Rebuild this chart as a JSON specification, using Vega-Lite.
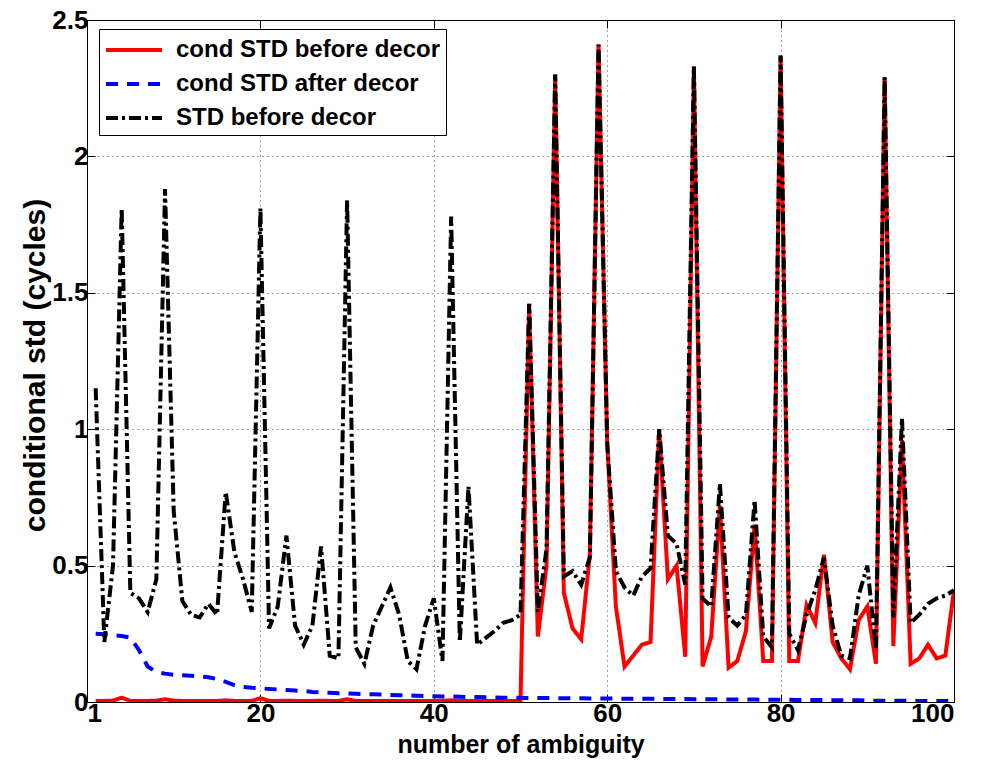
{
  "$schema": "https://vega.github.io/schema/vega-lite/v6.json",
  "width": 867,
  "height": 682,
  "autosize": {"type": "none"},
  "padding": {"left": 87, "top": 20, "right": 31, "bottom": 72},
  "background": "white",
  "config": {
    "font": "Liberation Sans",
    "view": {"stroke": "black", "strokeWidth": 1},
    "axis": {
      "labelFont": "Liberation Sans",
      "labelFontSize": 26,
      "labelFontWeight": "bold",
      "labelColor": "black",
      "titleFont": "Liberation Sans",
      "titleFontSize": 25,
      "titleFontWeight": "bold",
      "titleColor": "black",
      "domain": false,
      "tickColor": "black",
      "tickSize": -8,
      "gridColor": "black",
      "gridDash": [1, 4],
      "gridOpacity": 0.75
    }
  },
  "resolve": {"axis": {"x": "independent", "y": "independent"}},
  "data": {
    "values": [
      {"x":1,"r":0.004,"b":0.250,"k":1.15},
      {"x":2,"r":0.004,"b":0.248,"k":0.22},
      {"x":3,"r":0.005,"b":0.245,"k":0.50},
      {"x":4,"r":0.016,"b":0.242,"k":1.81},
      {"x":5,"r":0.004,"b":0.236,"k":0.40},
      {"x":6,"r":0.004,"b":0.190,"k":0.38},
      {"x":7,"r":0.004,"b":0.130,"k":0.33},
      {"x":8,"r":0.005,"b":0.110,"k":0.45},
      {"x":9,"r":0.010,"b":0.104,"k":1.88},
      {"x":10,"r":0.005,"b":0.100,"k":0.70},
      {"x":11,"r":0.004,"b":0.098,"k":0.37},
      {"x":12,"r":0.004,"b":0.096,"k":0.32},
      {"x":13,"r":0.004,"b":0.094,"k":0.31},
      {"x":14,"r":0.004,"b":0.091,"k":0.36},
      {"x":15,"r":0.004,"b":0.084,"k":0.32},
      {"x":16,"r":0.006,"b":0.074,"k":0.77},
      {"x":17,"r":0.004,"b":0.062,"k":0.55},
      {"x":18,"r":0.004,"b":0.055,"k":0.45},
      {"x":19,"r":0.004,"b":0.052,"k":0.33},
      {"x":20,"r":0.014,"b":0.050,"k":1.81},
      {"x":21,"r":0.004,"b":0.048,"k":0.27},
      {"x":22,"r":0.004,"b":0.046,"k":0.35},
      {"x":23,"r":0.005,"b":0.044,"k":0.61},
      {"x":24,"r":0.004,"b":0.042,"k":0.28},
      {"x":25,"r":0.004,"b":0.040,"k":0.21},
      {"x":26,"r":0.004,"b":0.037,"k":0.28},
      {"x":27,"r":0.005,"b":0.035,"k":0.57},
      {"x":28,"r":0.004,"b":0.034,"k":0.17},
      {"x":29,"r":0.004,"b":0.032,"k":0.16},
      {"x":30,"r":0.010,"b":0.031,"k":1.84},
      {"x":31,"r":0.004,"b":0.030,"k":0.20},
      {"x":32,"r":0.004,"b":0.029,"k":0.14},
      {"x":33,"r":0.004,"b":0.028,"k":0.28},
      {"x":34,"r":0.004,"b":0.027,"k":0.35},
      {"x":35,"r":0.004,"b":0.026,"k":0.42},
      {"x":36,"r":0.004,"b":0.025,"k":0.32},
      {"x":37,"r":0.004,"b":0.024,"k":0.15},
      {"x":38,"r":0.004,"b":0.023,"k":0.12},
      {"x":39,"r":0.004,"b":0.022,"k":0.28},
      {"x":40,"r":0.004,"b":0.021,"k":0.38},
      {"x":41,"r":0.004,"b":0.020,"k":0.15},
      {"x":42,"r":0.006,"b":0.020,"k":1.78},
      {"x":43,"r":0.004,"b":0.019,"k":0.22},
      {"x":44,"r":0.004,"b":0.018,"k":0.79},
      {"x":45,"r":0.004,"b":0.018,"k":0.21},
      {"x":46,"r":0.004,"b":0.017,"k":0.235},
      {"x":47,"r":0.004,"b":0.017,"k":0.26},
      {"x":48,"r":0.004,"b":0.016,"k":0.29},
      {"x":49,"r":0.004,"b":0.016,"k":0.30},
      {"x":50,"r":0.004,"b":0.015,"k":0.32},
      {"x":51,"r":1.46,"b":0.015,"k":1.46},
      {"x":52,"r":0.24,"b":0.015,"k":0.33},
      {"x":53,"r":0.50,"b":0.015,"k":0.56},
      {"x":54,"r":2.30,"b":0.014,"k":2.30},
      {"x":55,"r":0.40,"b":0.014,"k":0.46},
      {"x":56,"r":0.27,"b":0.014,"k":0.48},
      {"x":57,"r":0.23,"b":0.014,"k":0.43},
      {"x":58,"r":0.54,"b":0.013,"k":0.53},
      {"x":59,"r":2.41,"b":0.013,"k":2.41},
      {"x":60,"r":0.95,"b":0.013,"k":0.95},
      {"x":61,"r":0.35,"b":0.013,"k":0.48},
      {"x":62,"r":0.13,"b":0.012,"k":0.42},
      {"x":63,"r":0.17,"b":0.012,"k":0.39},
      {"x":64,"r":0.21,"b":0.012,"k":0.46},
      {"x":65,"r":0.22,"b":0.012,"k":0.49},
      {"x":66,"r":1.00,"b":0.011,"k":1.00},
      {"x":67,"r":0.45,"b":0.011,"k":0.61},
      {"x":68,"r":0.50,"b":0.011,"k":0.58},
      {"x":69,"r":0.166,"b":0.011,"k":0.43},
      {"x":70,"r":2.33,"b":0.010,"k":2.33},
      {"x":71,"r":0.13,"b":0.010,"k":0.38},
      {"x":72,"r":0.24,"b":0.010,"k":0.35},
      {"x":73,"r":0.72,"b":0.010,"k":0.80},
      {"x":74,"r":0.126,"b":0.009,"k":0.31},
      {"x":75,"r":0.15,"b":0.009,"k":0.28},
      {"x":76,"r":0.26,"b":0.009,"k":0.32},
      {"x":77,"r":0.65,"b":0.009,"k":0.74},
      {"x":78,"r":0.15,"b":0.008,"k":0.24},
      {"x":79,"r":0.15,"b":0.008,"k":0.20},
      {"x":80,"r":2.37,"b":0.008,"k":2.37},
      {"x":81,"r":0.15,"b":0.008,"k":0.25},
      {"x":82,"r":0.15,"b":0.007,"k":0.19},
      {"x":83,"r":0.355,"b":0.007,"k":0.32},
      {"x":84,"r":0.29,"b":0.007,"k":0.41},
      {"x":85,"r":0.54,"b":0.007,"k":0.53},
      {"x":86,"r":0.22,"b":0.006,"k":0.28},
      {"x":87,"r":0.16,"b":0.006,"k":0.17},
      {"x":88,"r":0.12,"b":0.006,"k":0.16},
      {"x":89,"r":0.30,"b":0.006,"k":0.39},
      {"x":90,"r":0.35,"b":0.005,"k":0.50},
      {"x":91,"r":0.14,"b":0.005,"k":0.19},
      {"x":92,"r":2.29,"b":0.005,"k":2.29},
      {"x":93,"r":0.205,"b":0.005,"k":0.31},
      {"x":94,"r":0.96,"b":0.005,"k":1.04},
      {"x":95,"r":0.14,"b":0.004,"k":0.29},
      {"x":96,"r":0.16,"b":0.004,"k":0.32},
      {"x":97,"r":0.21,"b":0.004,"k":0.36},
      {"x":98,"r":0.16,"b":0.004,"k":0.38},
      {"x":99,"r":0.17,"b":0.004,"k":0.39},
      {"x":100,"r":0.41,"b":0.004,"k":0.41}
    ]
  },
  "layer": [
    {
      "mark": {"type": "line", "strokeWidth": 4, "clip": true},
      "encoding": {
        "x": {"field": "x", "type": "quantitative", "scale": {"domain": [0, 100], "nice": false, "zero": false},
              "axis": {"values": [0, 20, 40, 60, 80, 100], "labelExpr": "datum.value == 0 ? '1' : datum.label", "labelPadding": 6, "titleX": 433.5, "titleY": 42, "titleBaseline": "middle", "titleAlign": "center"},
              "title": "number of ambiguity"},
        "y": {"field": "r", "type": "quantitative", "scale": {"domain": [0, 2.5], "nice": false},
              "axis": {"values": [0, 0.5, 1, 1.5, 2, 2.5], "format": "~g", "labelPadding": 7, "titleFontSize": 30, "titleX": -52, "titleY": 345, "titleBaseline": "middle", "titleAlign": "center"},
              "title": "conditional std (cycles)"},
        "color": {"datum": "cond STD before decor", "type": "nominal",
                  "scale": {"domain": ["cond STD before decor", "cond STD after decor", "STD before decor"], "range": ["#ff0000", "#0000ff", "#000000"]},
                  "legend": {"orient": "none", "legendX": 12, "legendY": 9, "title": null, "symbolType": "M-1,0H3", "symbolSize": 784, "symbolStrokeWidth": 4, "labelFontSize": 24, "labelFontWeight": "bold", "labelColor": "black", "labelFont": "Liberation Sans", "labelLimit": 500, "strokeColor": "black", "fillColor": "white", "padding": 5, "rowPadding": 6, "labelOffset": 40, "cornerRadius": 0}},
        "strokeDash": {"datum": "cond STD before decor", "type": "nominal",
                  "scale": {"domain": ["cond STD before decor", "cond STD after decor", "STD before decor"], "range": [[1, 0], [12, 9], [12, 4, 3, 4]]},
                  "legend": {"orient": "none", "legendX": 12, "legendY": 9, "title": null, "symbolType": "M-1,0H3", "symbolSize": 784, "symbolStrokeWidth": 4, "labelFontSize": 24, "labelFontWeight": "bold", "labelColor": "black", "labelFont": "Liberation Sans", "labelLimit": 500, "strokeColor": "black", "fillColor": "white", "padding": 5, "rowPadding": 6, "labelOffset": 40, "cornerRadius": 0}}
      }
    },
    {
      "mark": {"type": "line", "strokeWidth": 4, "clip": true},
      "encoding": {
        "x": {"field": "x", "type": "quantitative", "axis": null},
        "y": {"field": "b", "type": "quantitative", "axis": null},
        "color": {"datum": "cond STD after decor", "type": "nominal"},
        "strokeDash": {"datum": "cond STD after decor", "type": "nominal"}
      }
    },
    {
      "mark": {"type": "line", "strokeWidth": 4, "clip": true},
      "encoding": {
        "x": {"field": "x", "type": "quantitative",
              "axis": {"orient": "top", "values": [0, 20, 40, 60, 80, 100], "labels": false, "grid": false, "title": null}},
        "y": {"field": "k", "type": "quantitative",
              "axis": {"orient": "right", "values": [0, 0.5, 1, 1.5, 2, 2.5], "labels": false, "grid": false, "title": null}},
        "color": {"datum": "STD before decor", "type": "nominal"},
        "strokeDash": {"datum": "STD before decor", "type": "nominal"}
      }
    }
  ]
}
